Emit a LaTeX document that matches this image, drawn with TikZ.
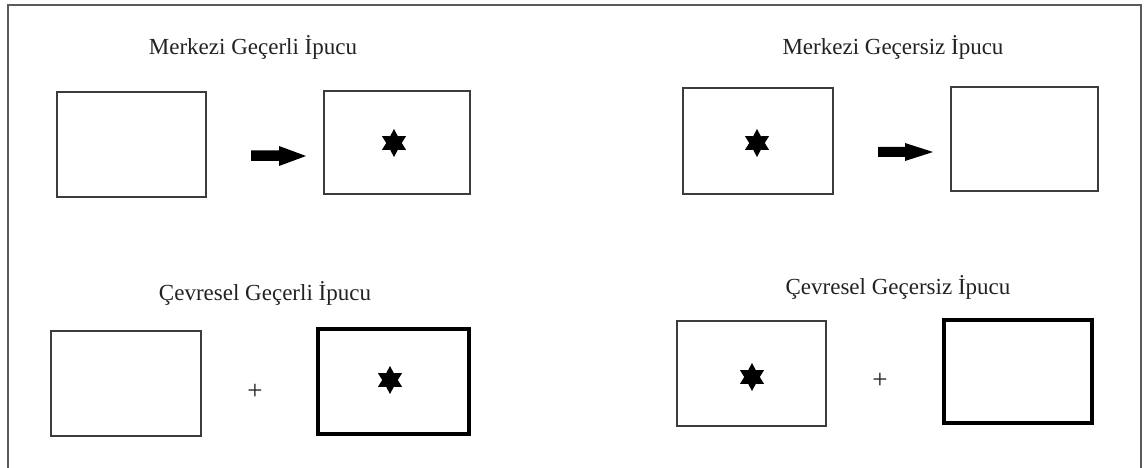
\documentclass[tikz,border=0pt]{standalone}
\usepackage{fontspec}
\setmainfont{Liberation Serif}
\usetikzlibrary{shapes.geometric}
\definecolor{framegray}{HTML}{5A5A5A}
\definecolor{boxgray}{HTML}{3C3C3C}
\definecolor{txt}{HTML}{222222}
\begin{document}
\begin{tikzpicture}[x=1pt,y=-1pt,
  thinbox/.style={draw=boxgray,line width=1.3pt,inner sep=0pt,outer sep=0pt},
  thickbox/.style={draw=black,line width=3.6pt,inner sep=0pt,outer sep=0pt},
  title/.style={text=txt,font=\fontsize{23}{27}\selectfont,inner sep=0pt},
  plussign/.style={text=txt,font=\fontsize{27}{31}\selectfont,inner sep=0pt},
  starmark/.style={star,star points=6,star point ratio=1.8,fill=black,draw=none,minimum size=28pt,inner sep=0pt},
  blockarrow/.style={fill=black}]
\useasboundingbox (0,0) rectangle (1144,468);
\fill[white] (0,0) rectangle (1144,468);
% frame
\draw[framegray,line width=1.5pt] (8,468) -- (8,5) -- (1141,5) -- (1141,468);
% titles
\node[title] (t1) at (253,47) {Merkezi Geçerli İpucu};
\node[title] (t2) at (893,47) {Merkezi Geçersiz İpucu};
\node[title] (t3) at (265,293) {Çevresel Geçerli İpucu};
\node[title] (t4) at (898,287) {Çevresel Geçersiz İpucu};
% boxes
\node[thinbox,minimum width=149pt,minimum height=105pt] (b1) at (131.5,144.5) {};
\node[thinbox,minimum width=146pt,minimum height=103pt] (b2) at (397,142.5) {};
\node[thinbox,minimum width=150pt,minimum height=106pt] (b3) at (758,141) {};
\node[thinbox,minimum width=147pt,minimum height=104pt] (b4) at (1024.5,139) {};
\node[thinbox,minimum width=150pt,minimum height=105pt] (b5) at (126,383.5) {};
\node[thickbox,minimum width=151pt,minimum height=105pt] (b6) at (393.5,381.5) {};
\node[thinbox,minimum width=149pt,minimum height=105pt] (b7) at (751.5,373.5) {};
\node[thickbox,minimum width=148pt,minimum height=103pt] (b8) at (1018,371.5) {};
% stars
\node[starmark] (s2) at (394,143) {};
\node[starmark] (s3) at (757,143) {};
\node[starmark] (s6) at (390,380) {};
\node[starmark] (s7) at (752,377) {};
% plus signs
\node[plussign] (p1) at (255,392) {+};
\node[plussign] (p2) at (880,381) {+};
% block arrows
\fill[blockarrow] (251,150.5) -- (279,150.5) -- (279,146) -- (306,156) -- (279,166) -- (279,161) -- (251,161) -- cycle;
\fill[blockarrow] (878,147) -- (905,147) -- (905,143) -- (933,152) -- (905,161) -- (905,157) -- (878,157) -- cycle;
\end{tikzpicture}
\end{document}
